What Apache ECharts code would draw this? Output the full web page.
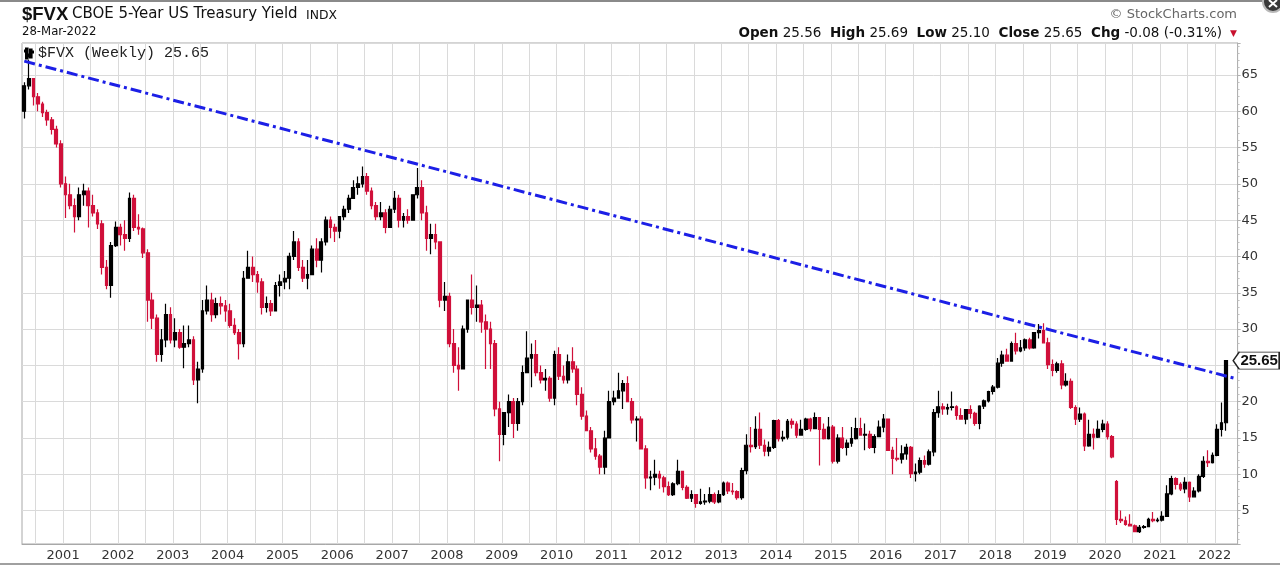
<!DOCTYPE html>
<html><head><meta charset="utf-8">
<script src="https://cdn.jsdelivr.net/npm/echarts@6/dist/echarts.min.js"></script>
<style>html,body{margin:0;padding:0;background:#fff}#c{width:1280px;height:567px}</style>
</head><body><div id="c"></div>
<script>
// Monthly OHLC readings of $FVX (yield x10), Apr 2000 .. Mar 2022
const opens = [
 60,63.5,64.5,62,61,59.8,58.8,57.5,55.5,
 50,48.5,47,45.5,48.5,49,47,46,44.5,38.5,36,41.5,
 44,43,42.5,48,44,43.8,40.5,34,31.5,26.5,28.5,32,
 28.5,29.5,27.5,28,28.5,23,24.5,32.5,34,32,33.5,33.2,
 32.5,30.5,29.5,28,37,38.5,37.5,36.5,33,33.5,32.5,36,
 36.5,37,40,42,38.5,37,37.5,41,39.5,42,45,44,
 43.5,45.5,46.5,48,49.5,50,51,49,47,45.5,46,44,
 46.5,48,45,45.5,45,48.5,49.5,46,42.5,43,42,34,
 34.5,28,25,24.5,30,34,33,33.3,31,30,28,19,
 15.5,18.5,20,17,20,24,26,26.5,24,23,23.2,20.5,
 26.5,23.5,23,25.5,24.5,21,18,16,13.5,12.5,11,15,
 20,20.5,21.5,22.5,20,17.5,17.6,13.5,9.5,9.6,10,9.5,
 8.3,7.2,8.7,10.4,8.2,6.7,7.2,6,6.2,6.3,7.2,6.2,
 7.2,8.8,7.7,7.6,6.8,10.5,14,13.8,16.2,14,13.2,13.7,
 17.4,14.9,15.1,17.3,16.9,15.4,16.2,17.6,16.3,17.8,16.2,14.9,
 16.5,11.8,15,13.7,14.3,14.9,16.3,15.4,15.5,13.7,15.2,16.5,
 17.6,13.3,12.2,12.1,12.8,13.7,10.1,10.3,11.9,11.4,13.1,18.5,
 19.3,19,19.2,19.3,18.1,17.6,18.9,18.4,17,19.4,20.1,21.4,
 22,25.3,26.4,25.6,28,27,27.4,28.5,27.4,29.5,29.8,28.1,
 25.1,24.3,25.2,22.3,22.8,19.2,17.6,18.3,13.9,15.5,15.1,16.2,
 16.9,15.2,9.0,3.8,3.6,3.1,2.9,2.1,2.7,2.8,3.8,3.6,
 3.7,4.2,7.3,9.4,8.6,8.0,8.9,6.9,7.7,9.7,11.8,11.6,
 12.6,16.2,17.1
];
const highs = [
 64,67.1,64.5,62.5,61.3,60.2,59.2,58,56,
 51,50,48,49.5,50,49.5,48.5,46.5,45,39.5,42,44.8,
 44.5,45,48.8,48.5,45.8,44,41,35,32,30,33.5,33,
 31.5,30,30.5,30.5,29,25.5,34,36,35,34.3,34.5,34,
 33.5,31.5,30,38,40.8,40,38,37,34.5,34,36.5,37.5,
 38,40.5,43.5,42.5,39.5,39.5,41.5,42.5,42.5,45.5,45.5,44.5,
 45.5,47,48.5,50.5,51,52.4,51.5,49.5,47.5,47.5,46.5,47,
 49,48.5,46,46.5,48.5,52.2,50.5,47,44.5,44.5,42,36.5,
 35,30,27.5,30.5,34,37.5,36,34,32,31,28.5,20,
 18.5,21,20.5,20.5,25,29.7,28,28.5,25,24.5,23.5,27,
 27.5,25,26.5,27.5,25,22,18.8,16.5,15,12.8,16,21.5,
 21.5,24,23,23.5,20.5,18,18,14,10.5,12,10.5,9.8,
 9,8.9,12,10.5,8.5,7.8,7.3,8,7.3,8.2,7.5,7.8,
 9,9,8.8,7.8,10.9,15.5,16.5,18,18.5,14.8,14.5,17.5,
 17.6,16,17.6,17.7,17.3,17.5,17.8,17.8,18.5,17.9,17,17.9,
 16.8,15.5,16.5,14.8,16.5,17.8,17.8,17,16,15.5,17.4,18.3,
 17.7,13.8,15,14,14.2,13.9,11.5,12.3,12.6,13.4,19,21.5,
 19.8,19.7,21.4,19.5,19.1,19,19.5,18.6,19.5,20.3,21.5,22.3,
 26,27,27.3,28.3,29.5,28.5,28.7,28.8,29.6,30.7,30.8,28.8,
 25.8,25.5,25.7,23.9,23.2,19.5,19.2,18.5,17.5,16.3,17.4,17.5,
 17.3,15.4,9.2,5,4.2,4.5,3.1,3.0,3.0,4.0,4.8,4.0,
 4.9,8.5,9.8,9.6,8.9,9.6,9.0,8.2,10.0,12.5,13.3,13.0,
 16.9,19.9,25.69
];
const lows = [
 59,63,60.8,60,59.2,58,56.8,55,49.5,
 45.3,46.5,43.3,45,47,44,45.5,43.8,37.5,35.5,34.3,41.3,
 41.5,40.8,42,43.5,43,39.8,31,30,25.5,25.5,27.5,28,
 27.5,27.3,24.6,27.5,22.3,19.8,24,32,31,31.5,32,31,
 30.2,29.2,25.8,27.5,37,36.5,35,32,32.3,31.8,32.5,34.5,
 35.5,35.5,39.5,38,36.5,35.5,37.5,38.5,37.8,41.5,42.5,42,
 42.5,45,46,48,48.5,49.5,48.5,46.5,45,45,43.2,44,
 46,44,44,44.5,45,48,45,40.8,40.3,41,33,32.5,
 27.5,24,21.5,24.5,29.5,32,31,29.5,24.5,24.5,18,11.8,
 14,16.5,15,16,19.5,24,22,23.5,22.5,21.5,20,19.5,
 23,22.5,22.5,24,19.5,17.5,16,13,12,10,10,15,
 19.5,20.5,19,20,17,14.5,13.5,8,7.8,8.5,8,7.5,
 7,7,8.5,7.8,6.6,6.2,5.4,5.8,5.8,6,5.9,6,
 7,7.3,7.2,6.5,6.5,10,13,13.5,13.5,12.5,12.5,13.5,
 14.5,14.5,14.8,16.3,15,15.3,16,15.9,16.2,11.2,14.8,14.8,
 11.5,11.5,13.5,12.6,13.8,14.8,15.3,13.3,13.5,12.9,15.1,15.8,
 13.3,10,11.8,11.5,12,9.5,9.0,10,10.9,11.2,12.5,17.8,
 18.2,18.2,18.8,17.5,17.5,16.9,17.7,16.7,16.2,19,19.9,21,
 21.8,24.8,25.5,25.5,26.5,26.8,27,27.2,27.3,28.7,28,24.5,
 23.5,24,21.7,22.1,19,16.8,17.2,13.2,13.8,13.4,15,15.8,
 14.8,12.2,3.0,3.3,2.9,2.8,2.1,1.9,2.5,2.7,3.4,3.4,
 3.5,4.2,7.1,7.9,7.7,7.4,6.2,6.8,7.5,9.5,11,11.5,
 12.5,15.2,16.0
];
const closes = [
 63.5,64.5,62,61,59.8,58.8,57.5,55.5,50,
 48.5,47,45.5,48.5,49,47,46,44.5,38.5,36,41.5,44,
 43,42.5,48,44,43.8,40.5,34,31.5,26.5,28.5,32,28.5,
 29.5,27.5,28,28.5,23,24.5,32.5,34,32,33.5,33.2,32.5,
 30.5,29.5,28,37,38.5,37.5,36.5,33,33.5,32.5,36,36.5,
 37,40,42,38.5,37,37.5,41,39.5,42,45,44,43.5,
 45.5,46.5,48,49.5,50,51,49,47,45.5,46,44,46.5,
 48,45,45.5,45,48.5,49.5,46,42.5,43,42,34,34.5,
 28,25,24.5,30,34,33,33.3,31,30,28,19,15.5,
 18.5,20,17,20,24,26,26.5,24,23,23.2,20.5,26.5,
 23.5,23,25.5,24.5,21,18,16,13.5,12.5,11,15,20,
 20.5,21.5,22.5,20,17.5,17.6,13.5,9.5,9.6,10,9.5,8.3,
 7.2,8.7,10.4,8.2,6.7,7.2,6.0,6.2,6.3,7.2,6.2,7.2,
 8.8,7.7,7.6,6.8,10.5,14,13.8,16.2,14,13.2,13.7,17.4,
 14.9,15.1,17.3,16.9,15.4,16.2,17.6,16.3,17.8,16.2,14.9,16.5,
 11.8,15,13.7,14.3,14.9,16.3,15.4,15.5,13.7,15.2,16.5,17.6,
 13.3,12.2,12.1,12.8,13.7,10.1,10.3,11.9,11.4,13.1,18.5,19.3,
 19,19.2,19.3,18.1,17.6,18.9,18.4,17,19.4,20.1,21.4,22,
 25.3,26.4,25.6,28,27,27.4,28.5,27.4,29.5,29.8,28.1,25.1,
 24.3,25.2,22.3,22.8,19.2,17.6,18.3,13.9,15.5,15.1,16.2,16.9,
 15.2,12.4,3.8,3.6,3.1,2.9,2.1,2.7,2.8,3.8,3.6,3.7,
 4.2,7.3,9.4,8.6,8.0,8.9,6.9,7.7,9.7,11.8,11.6,12.6,
 16.2,17.1,25.65
];
// Month categories Apr 2000 .. May 2022 (last two months are empty right margin)
const firstMonth = [2000, 4];
const monthCount = 266;
const categories = [];
for (let k = 0; k < monthCount; k++) {
  const m0 = firstMonth[1] - 1 + k;
  const y = firstMonth[0] + Math.floor(m0 / 12);
  const m = (m0 % 12) + 1;
  categories.push(y + '-' + (m < 10 ? '0' + m : '' + m));
}
const trendStart = 66.9;   // trendline value at first category
const trendEnd = 23.2;     // trendline value at last category
const lastClose = 25.65;
const seriesName = '$FVX (Weekly) 25.65';

const ohlc = opens.map((o, i) => [o, closes[i], lows[i], highs[i]]);

const chart = echarts.init(document.getElementById('c'));
const SANS = 'DejaVu Sans';
chart.setOption({
  animation: false,
  backgroundColor: '#fff',
  title: [
    {text: '$FVX', left: 22, top: 5, padding: 0,
     textStyle: {fontFamily: 'Liberation Sans', fontWeight: 'bold', fontSize: 18.5, color: '#111'}},
    {text: 'CBOE 5-Year US Treasury Yield', left: 72, top: 7, padding: 0,
     textStyle: {fontFamily: SANS, fontWeight: 'normal', fontSize: 15, color: '#111'}},
    {text: 'INDX', left: 306, top: 10, padding: 0,
     textStyle: {fontFamily: SANS, fontWeight: 'normal', fontSize: 12.4, color: '#111'}},
    {text: '28-Mar-2022', left: 22, top: 26, padding: 0,
     textStyle: {fontFamily: SANS, fontWeight: 'normal', fontSize: 11.7, color: '#111'}},
    {text: '\u00A9 StockCharts.com', right: 43, top: 8, padding: 0,
     textStyle: {fontFamily: SANS, fontWeight: 'normal', fontSize: 13, color: '#666'}},
    {text: '{b|Open} 25.56  {b|High} 25.69  {b|Low} 25.10  {b|Close} 25.65  {b|Chg} -0.08 (-0.31%)',
     right: 58, top: 26, padding: 0,
     textStyle: {fontFamily: SANS, fontWeight: 'normal', fontSize: 13.5, color: '#111',
       rich: {b: {fontFamily: SANS, fontWeight: 'bold', fontSize: 13.5, color: '#111'}}}},
    {text: '\u25BC', right: 43, top: 29, padding: 0,
     textStyle: {fontFamily: SANS, fontWeight: 'normal', fontSize: 9, color: '#c8102e'}}
  ],
  legend: {
    left: 24, top: 46, padding: 0, itemWidth: 8, itemHeight: 10, selectedMode: false,
    icon: 'path://M1,0h1.6v10h-1.6z M0,2h1v1h-1z M2.6,6h1.4v1h-1.4z M5,1h1.6v8h-1.6z M4,7h1v1h-1z M6.6,3h1.4v1h-1.4z',
    textStyle: {fontFamily: 'Liberation Mono', fontSize: 15, color: '#222'},
    data: [seriesName]
  },
  graphic: [
    {type: 'rect', shape: {x: 0, y: 0, width: 1280, height: 2}, style: {fill: '#8a8a8a'}, silent: true},
    {type: 'rect', shape: {x: 0, y: 563, width: 1280, height: 2}, style: {fill: '#a0a0a0'}, silent: true},
    {type: 'circle', shape: {cx: 1273, cy: 2, r: 10}, style: {fill: '#3a3a3a', stroke: '#b8b8b8', lineWidth: 2}, silent: true},
    {type: 'polyline', shape: {points: [[1269, 0], [1277, 7]]}, style: {stroke: '#fff', lineWidth: 2}, silent: true},
    {type: 'polyline', shape: {points: [[1277, 0], [1269, 7]]}, style: {stroke: '#fff', lineWidth: 2}, silent: true}
  ],
  grid: {left: 22, right: 42.4, top: 43, bottom: 23, show: true, borderColor: '#a8a8a8', borderWidth: 1, backgroundColor: '#fff'},
  xAxis: {
    type: 'category', data: categories, boundaryGap: true,
    axisLine: {lineStyle: {color: '#a8a8a8'}},
    axisTick: {show: false},
    axisLabel: {
      interval: (i, v) => v.endsWith('-01'),
      formatter: v => v.slice(0, 4),
      fontFamily: SANS, fontSize: 13, color: '#333', margin: 5, padding: [0, 4.6, 0, 0]
    },
    splitLine: {show: true, interval: (i, v) => v.endsWith('-01') || v.endsWith('-07'),
      lineStyle: {color: '#dadada', width: 1}}
  },
  yAxis: {
    type: 'value', position: 'right', min: 0.4, max: 69.4, splitNumber: 14, scale: true,
    axisLine: {show: true, lineStyle: {color: '#b0b0b0'}},
    axisTick: {show: true, length: 3, lineStyle: {color: '#b0b0b0'}},
    minorTick: {show: true, splitNumber: 5, length: 2, lineStyle: {color: '#c0c0c0'}},
    axisLabel: {fontFamily: SANS, fontSize: 13, color: '#333', margin: 4, showMinLabel: false, showMaxLabel: false},
    splitLine: {show: true, lineStyle: {color: '#dadada', width: 1}}
  },
  series: [{
    type: 'candlestick', name: seriesName, data: ohlc, barWidth: 3.2,
    itemStyle: {color: '#000', color0: '#d0103a', borderColor: '#000', borderColor0: '#d0103a', borderWidth: 1.2},
    markLine: {
      silent: true, animation: false, symbol: ['none', 'none'], label: {show: false},
      lineStyle: {color: '#1c1fe6', width: 3, type: [11, 4, 3, 4]},
      data: [[{coord: [categories[0], trendStart]}, {coord: [categories[categories.length - 1], trendEnd]}]]
    },
    markPoint: {
      silent: true, animation: false,
      symbol: 'path://M0,8.5L6,0L46,0L46,17L6,17Z', symbolSize: [46, 17], symbolOffset: [30, 0],
      itemStyle: {color: '#fff', borderColor: '#222', borderWidth: 1},
      label: {show: true, position: 'inside', offset: [3, 0], formatter: String(lastClose),
        fontFamily: 'Liberation Sans', fontWeight: 'bold', fontSize: 15, color: '#111'},
      data: [{coord: [categories[closes.length - 1], lastClose]}]
    }
  }]
});
</script></body></html>
